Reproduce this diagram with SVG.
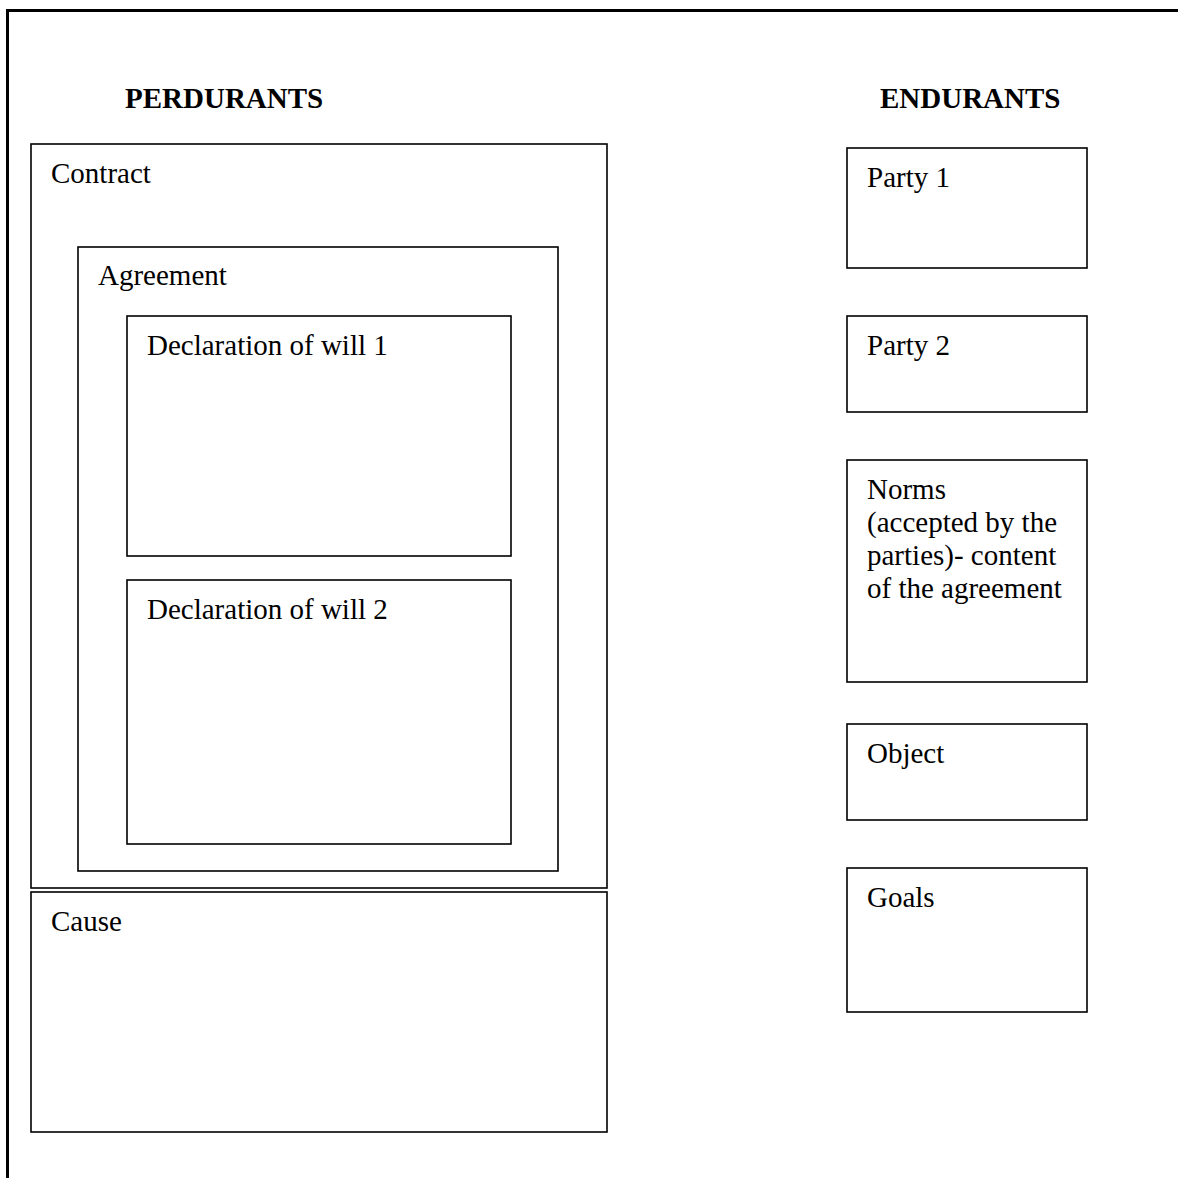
<svg xmlns="http://www.w3.org/2000/svg" width="1178" height="1178" viewBox="0 0 1178 1178">
<style>
.b{fill:none;stroke:#000;stroke-width:1.6}
.t{font-family:"Liberation Serif","Times New Roman",serif;font-size:29px;fill:#000}
.h{font-family:"Liberation Serif","Times New Roman",serif;font-size:29px;font-weight:bold;fill:#000}
</style>
<rect width="1178" height="1178" fill="#fff"/>
<path d="M7.5 1178 V10.5 H1178" fill="none" stroke="#000" stroke-width="3"/>
<text class="h" x="125" y="108">PERDURANTS</text>
<text class="h" x="880" y="108">ENDURANTS</text>
<g id="contract"><rect class="b" x="31" y="144" width="576" height="744"/><text class="t" x="51" y="183">Contract</text></g>
<g id="agreement"><rect class="b" x="78" y="247" width="480" height="624"/><text class="t" x="98" y="285">Agreement</text></g>
<g id="decl1"><rect class="b" x="127" y="316" width="384" height="240"/><text class="t" x="147" y="355">Declaration of will 1</text></g>
<g id="decl2"><rect class="b" x="127" y="580" width="384" height="264"/><text class="t" x="147" y="619">Declaration of will 2</text></g>
<g id="cause"><rect class="b" x="31" y="892" width="576" height="240"/><text class="t" x="51" y="931">Cause</text></g>
<g id="party1"><rect class="b" x="847" y="148" width="240" height="120"/><text class="t" x="867" y="187">Party 1</text></g>
<g id="party2"><rect class="b" x="847" y="316" width="240" height="96"/><text class="t" x="867" y="355">Party 2</text></g>
<g id="norms"><rect class="b" x="847" y="460" width="240" height="222"/><text class="t" x="867" y="499">Norms<tspan x="867" dy="33">(accepted by the</tspan><tspan x="867" dy="33">parties)- content</tspan><tspan x="867" dy="33">of the agreement</tspan></text></g>
<g id="object"><rect class="b" x="847" y="724" width="240" height="96"/><text class="t" x="867" y="763">Object</text></g>
<g id="goals"><rect class="b" x="847" y="868" width="240" height="144"/><text class="t" x="867" y="907">Goals</text></g>
<g id="connectors"></g>
</svg>
